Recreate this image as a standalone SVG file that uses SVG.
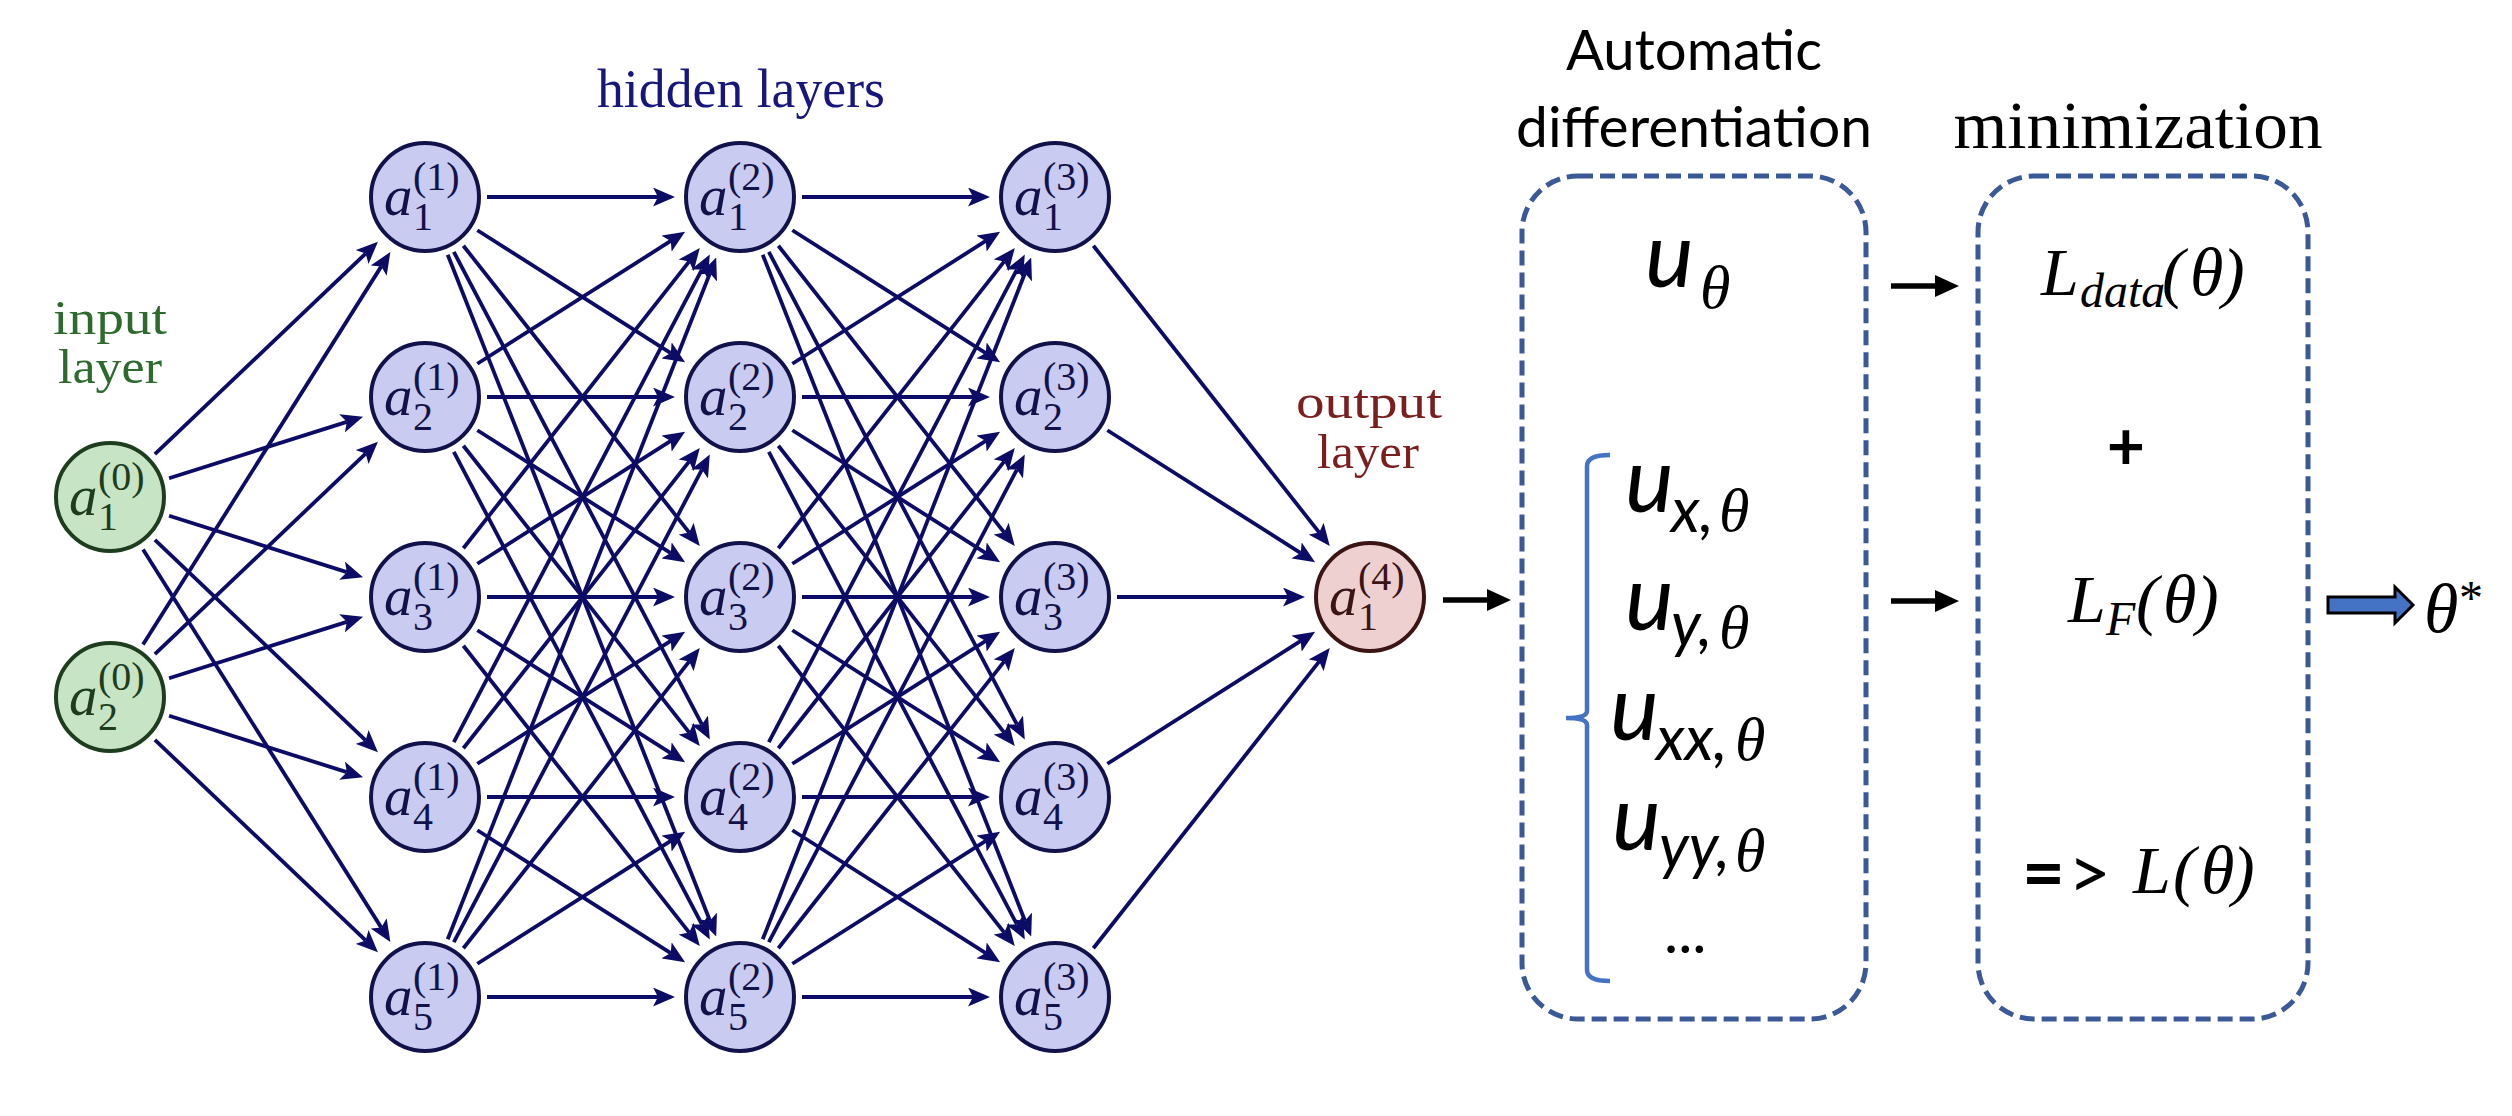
<svg xmlns="http://www.w3.org/2000/svg" width="2512" height="1116" viewBox="0 0 2512 1116">
<style>
.e{stroke:#0c0c66;stroke-width:3.8;fill:none;marker-end:url(#ah)}
.k{stroke:#000;stroke-width:5.5;fill:none;marker-end:url(#ak)}
.nin{fill:#c7e5c5;stroke:#1e3d1e;stroke-width:4}
.nh{fill:#c9cbf1;stroke:#12124a;stroke-width:4}
.nout{fill:#efd0d0;stroke:#3b1414;stroke-width:4}
.lb{font-family:"Liberation Serif",serif}
.tin{fill:#1e3d1e}.th{fill:#12124a}.tout{fill:#3b1414}
.a{font-style:italic;font-size:57px}
.s{font-size:40px}
.cap{font-family:"Liberation Serif",serif;font-size:54px;text-anchor:middle}
.cap2{font-family:"Liberation Serif",serif;font-size:48px;text-anchor:middle}
.sans{font-family:Lato,"Liberation Sans",sans-serif;fill:#000}
.u{font-style:italic;font-size:92px}
.sub{font-style:italic;font-size:62px}
.th8{font-family:"Liberation Serif",serif;font-style:italic;font-size:62px}
.tm{font-family:"Liberation Serif",serif;font-style:italic;fill:#000}
.up{font-family:"Liberation Serif",serif;font-style:normal;fill:#000}
.box{fill:none;stroke:#3b5997;stroke-width:5;stroke-dasharray:15 7}
</style>
<defs>
<marker id="ah" markerUnits="userSpaceOnUse" markerWidth="22" markerHeight="19" viewBox="0 0 22 19" refX="5" refY="9.5" orient="auto"><path d="M0,0 L22,9.5 L0,19 L5,9.5 z" fill="#0c0c66"/></marker>
<marker id="ak" markerUnits="userSpaceOnUse" markerWidth="24" markerHeight="22" viewBox="0 0 24 22" refX="1" refY="11" orient="auto"><path d="M0,0 L24,11 L0,22 z" fill="#000"/></marker>
</defs>
<rect width="2512" height="1116" fill="#fff"/>

<g id="connectors">
<line class="e" x1="154.89" y1="454.24" x2="365.62" y2="253.56"/>
<line class="e" x1="169.09" y1="478.24" x2="346.84" y2="421.82"/>
<line class="e" x1="169.09" y1="515.76" x2="346.84" y2="572.18"/>
<line class="e" x1="154.89" y1="539.76" x2="365.62" y2="740.44"/>
<line class="e" x1="143.05" y1="549.46" x2="381.3" y2="927.62"/>
<line class="e" x1="143.05" y1="644.54" x2="381.3" y2="266.38"/>
<line class="e" x1="154.89" y1="654.24" x2="365.62" y2="453.56"/>
<line class="e" x1="169.09" y1="678.24" x2="346.84" y2="621.82"/>
<line class="e" x1="169.09" y1="715.76" x2="346.84" y2="772.18"/>
<line class="e" x1="154.89" y1="739.76" x2="365.62" y2="940.44"/>

<line class="e" x1="487" y1="197" x2="658" y2="197"/>
<line class="e" x1="477.34" y1="230.23" x2="670.77" y2="353.05"/>
<line class="e" x1="463.36" y1="245.71" x2="689.26" y2="532.58"/>
<line class="e" x1="453.82" y1="251.89" x2="701.89" y2="724.4"/>
<line class="e" x1="447.72" y1="254.69" x2="709.96" y2="920.7"/>
<line class="e" x1="477.34" y1="363.77" x2="670.77" y2="240.95"/>
<line class="e" x1="487" y1="397" x2="658" y2="397"/>
<line class="e" x1="477.34" y1="430.23" x2="670.77" y2="553.05"/>
<line class="e" x1="463.36" y1="445.71" x2="689.26" y2="732.58"/>
<line class="e" x1="453.82" y1="451.89" x2="701.89" y2="924.4"/>
<line class="e" x1="463.36" y1="548.29" x2="689.26" y2="261.42"/>
<line class="e" x1="477.34" y1="563.77" x2="670.77" y2="440.95"/>
<line class="e" x1="487" y1="597" x2="658" y2="597"/>
<line class="e" x1="477.34" y1="630.23" x2="670.77" y2="753.05"/>
<line class="e" x1="463.36" y1="645.71" x2="689.26" y2="932.58"/>
<line class="e" x1="453.82" y1="742.11" x2="701.89" y2="269.6"/>
<line class="e" x1="463.36" y1="748.29" x2="689.26" y2="461.42"/>
<line class="e" x1="477.34" y1="763.77" x2="670.77" y2="640.95"/>
<line class="e" x1="487" y1="797" x2="658" y2="797"/>
<line class="e" x1="477.34" y1="830.23" x2="670.77" y2="953.05"/>
<line class="e" x1="447.72" y1="939.31" x2="709.96" y2="273.3"/>
<line class="e" x1="453.82" y1="942.11" x2="701.89" y2="469.6"/>
<line class="e" x1="463.36" y1="948.29" x2="689.26" y2="661.42"/>
<line class="e" x1="477.34" y1="963.77" x2="670.77" y2="840.95"/>
<line class="e" x1="487" y1="997" x2="658" y2="997"/>

<line class="e" x1="802" y1="197" x2="973" y2="197"/>
<line class="e" x1="792.34" y1="230.23" x2="985.77" y2="353.05"/>
<line class="e" x1="778.36" y1="245.71" x2="1004.26" y2="532.58"/>
<line class="e" x1="768.82" y1="251.89" x2="1016.89" y2="724.4"/>
<line class="e" x1="762.72" y1="254.69" x2="1024.96" y2="920.7"/>
<line class="e" x1="792.34" y1="363.77" x2="985.77" y2="240.95"/>
<line class="e" x1="802" y1="397" x2="973" y2="397"/>
<line class="e" x1="792.34" y1="430.23" x2="985.77" y2="553.05"/>
<line class="e" x1="778.36" y1="445.71" x2="1004.26" y2="732.58"/>
<line class="e" x1="768.82" y1="451.89" x2="1016.89" y2="924.4"/>
<line class="e" x1="778.36" y1="548.29" x2="1004.26" y2="261.42"/>
<line class="e" x1="792.34" y1="563.77" x2="985.77" y2="440.95"/>
<line class="e" x1="802" y1="597" x2="973" y2="597"/>
<line class="e" x1="792.34" y1="630.23" x2="985.77" y2="753.05"/>
<line class="e" x1="778.36" y1="645.71" x2="1004.26" y2="932.58"/>
<line class="e" x1="768.82" y1="742.11" x2="1016.89" y2="269.6"/>
<line class="e" x1="778.36" y1="748.29" x2="1004.26" y2="461.42"/>
<line class="e" x1="792.34" y1="763.77" x2="985.77" y2="640.95"/>
<line class="e" x1="802" y1="797" x2="973" y2="797"/>
<line class="e" x1="792.34" y1="830.23" x2="985.77" y2="953.05"/>
<line class="e" x1="762.72" y1="939.31" x2="1024.96" y2="273.3"/>
<line class="e" x1="768.82" y1="942.11" x2="1016.89" y2="469.6"/>
<line class="e" x1="778.36" y1="948.29" x2="1004.26" y2="661.42"/>
<line class="e" x1="792.34" y1="963.77" x2="985.77" y2="840.95"/>
<line class="e" x1="802" y1="997" x2="973" y2="997"/>

<line class="e" x1="1093.36" y1="245.71" x2="1319.26" y2="532.58"/>
<line class="e" x1="1107.34" y1="430.23" x2="1300.77" y2="553.05"/>
<line class="e" x1="1117" y1="597" x2="1288" y2="597"/>
<line class="e" x1="1107.34" y1="763.77" x2="1300.77" y2="640.95"/>
<line class="e" x1="1093.36" y1="948.29" x2="1319.26" y2="661.42"/>

<line class="k" x1="1443" y1="600" x2="1488" y2="600"/>
<line class="k" x1="1891" y1="286" x2="1936" y2="286"/>
<line class="k" x1="1891" y1="601" x2="1936" y2="601"/>
<polygon points="2328,597 2395,597 2395,587 2413,605 2395,623 2395,613 2328,613" fill="#4472c4" stroke="#000" stroke-width="3"/>
</g>

<g id="n_a1_0"><circle class="nin" cx="110" cy="497" r="54"/><text class="lb tin"><tspan class="a" x="69" y="515">a</tspan><tspan class="s" x="98" y="530">1</tspan><tspan class="s" x="98" y="490">(0)</tspan></text></g>
<g id="n_a2_0"><circle class="nin" cx="110" cy="697" r="54"/><text class="lb tin"><tspan class="a" x="69" y="715">a</tspan><tspan class="s" x="98" y="730">2</tspan><tspan class="s" x="98" y="690">(0)</tspan></text></g>

<g id="n_a1_1"><circle class="nh" cx="425" cy="197" r="54"/><text class="lb th"><tspan class="a" x="384" y="215">a</tspan><tspan class="s" x="413" y="230">1</tspan><tspan class="s" x="413" y="190">(1)</tspan></text></g>
<g id="n_a2_1"><circle class="nh" cx="425" cy="397" r="54"/><text class="lb th"><tspan class="a" x="384" y="415">a</tspan><tspan class="s" x="413" y="430">2</tspan><tspan class="s" x="413" y="390">(1)</tspan></text></g>
<g id="n_a3_1"><circle class="nh" cx="425" cy="597" r="54"/><text class="lb th"><tspan class="a" x="384" y="615">a</tspan><tspan class="s" x="413" y="630">3</tspan><tspan class="s" x="413" y="590">(1)</tspan></text></g>
<g id="n_a4_1"><circle class="nh" cx="425" cy="797" r="54"/><text class="lb th"><tspan class="a" x="384" y="815">a</tspan><tspan class="s" x="413" y="830">4</tspan><tspan class="s" x="413" y="790">(1)</tspan></text></g>
<g id="n_a5_1"><circle class="nh" cx="425" cy="997" r="54"/><text class="lb th"><tspan class="a" x="384" y="1015">a</tspan><tspan class="s" x="413" y="1030">5</tspan><tspan class="s" x="413" y="990">(1)</tspan></text></g>

<g id="n_a1_2"><circle class="nh" cx="740" cy="197" r="54"/><text class="lb th"><tspan class="a" x="699" y="215">a</tspan><tspan class="s" x="728" y="230">1</tspan><tspan class="s" x="728" y="190">(2)</tspan></text></g>
<g id="n_a2_2"><circle class="nh" cx="740" cy="397" r="54"/><text class="lb th"><tspan class="a" x="699" y="415">a</tspan><tspan class="s" x="728" y="430">2</tspan><tspan class="s" x="728" y="390">(2)</tspan></text></g>
<g id="n_a3_2"><circle class="nh" cx="740" cy="597" r="54"/><text class="lb th"><tspan class="a" x="699" y="615">a</tspan><tspan class="s" x="728" y="630">3</tspan><tspan class="s" x="728" y="590">(2)</tspan></text></g>
<g id="n_a4_2"><circle class="nh" cx="740" cy="797" r="54"/><text class="lb th"><tspan class="a" x="699" y="815">a</tspan><tspan class="s" x="728" y="830">4</tspan><tspan class="s" x="728" y="790">(2)</tspan></text></g>
<g id="n_a5_2"><circle class="nh" cx="740" cy="997" r="54"/><text class="lb th"><tspan class="a" x="699" y="1015">a</tspan><tspan class="s" x="728" y="1030">5</tspan><tspan class="s" x="728" y="990">(2)</tspan></text></g>

<g id="n_a1_3"><circle class="nh" cx="1055" cy="197" r="54"/><text class="lb th"><tspan class="a" x="1014" y="215">a</tspan><tspan class="s" x="1043" y="230">1</tspan><tspan class="s" x="1043" y="190">(3)</tspan></text></g>
<g id="n_a2_3"><circle class="nh" cx="1055" cy="397" r="54"/><text class="lb th"><tspan class="a" x="1014" y="415">a</tspan><tspan class="s" x="1043" y="430">2</tspan><tspan class="s" x="1043" y="390">(3)</tspan></text></g>
<g id="n_a3_3"><circle class="nh" cx="1055" cy="597" r="54"/><text class="lb th"><tspan class="a" x="1014" y="615">a</tspan><tspan class="s" x="1043" y="630">3</tspan><tspan class="s" x="1043" y="590">(3)</tspan></text></g>
<g id="n_a4_3"><circle class="nh" cx="1055" cy="797" r="54"/><text class="lb th"><tspan class="a" x="1014" y="815">a</tspan><tspan class="s" x="1043" y="830">4</tspan><tspan class="s" x="1043" y="790">(3)</tspan></text></g>
<g id="n_a5_3"><circle class="nh" cx="1055" cy="997" r="54"/><text class="lb th"><tspan class="a" x="1014" y="1015">a</tspan><tspan class="s" x="1043" y="1030">5</tspan><tspan class="s" x="1043" y="990">(3)</tspan></text></g>

<g id="n_a1_4"><circle class="nout" cx="1370" cy="597" r="54"/><text class="lb tout"><tspan class="a" x="1329" y="615">a</tspan><tspan class="s" x="1358" y="630">1</tspan><tspan class="s" x="1358" y="590">(4)</tspan></text></g>

<g id="labels">
<text class="cap2" fill="#2d6a2d" x="110" y="334" textLength="114" lengthAdjust="spacingAndGlyphs">input</text>
<text class="cap2" fill="#2d6a2d" x="110" y="383" textLength="104" lengthAdjust="spacingAndGlyphs">layer</text>
<text class="cap" fill="#16167c" x="741" y="107" textLength="288" lengthAdjust="spacingAndGlyphs">hidden layers</text>
<text class="cap2" fill="#7a1e1e" x="1369" y="418" textLength="146" lengthAdjust="spacingAndGlyphs">output</text>
<text class="cap2" fill="#7a1e1e" x="1368" y="468" textLength="102" lengthAdjust="spacingAndGlyphs">layer</text>
</g>

<g id="autodiff">
<text class="sans" x="1694" y="70" font-size="56" text-anchor="middle" textLength="256" lengthAdjust="spacingAndGlyphs">Automatic</text>
<text class="sans" x="1694" y="147" font-size="56" text-anchor="middle" textLength="356" lengthAdjust="spacingAndGlyphs">differentiation</text>
<rect class="box" x="1522" y="176" width="344" height="843" rx="56" ry="56"/>
<text class="sans"><tspan class="u" x="1645" y="287">u</tspan></text>
<text class="th8" x="1700" y="308">θ</text>
<text class="sans"><tspan class="u" x="1625" y="512">u</tspan><tspan class="sub" x="1671" y="532">x,</tspan></text>
<text class="th8" x="1719" y="531">θ</text>
<text class="sans"><tspan class="u" x="1625" y="630">u</tspan><tspan class="sub" x="1671" y="646">y,</tspan></text>
<text class="th8" x="1719" y="648">θ</text>
<text class="sans"><tspan class="u" x="1610" y="740">u</tspan><tspan class="sub" x="1656" y="760">xx,</tspan></text>
<text class="th8" x="1735" y="760">θ</text>
<text class="sans"><tspan class="u" x="1612" y="850">u</tspan><tspan class="sub" x="1659" y="868">yy,</tspan></text>
<text class="th8" x="1735" y="871">θ</text>
<text class="sans" x="1664" y="953" font-size="60">...</text>
<path d="M1610,455 Q1587,455 1587,466 L1587,711 Q1587,718 1566,718 Q1587,718 1587,725 L1587,970 Q1587,981 1610,981" fill="none" stroke="#4472c4" stroke-width="4.5"/>
</g>

<g id="minimization">
<text class="up" x="2138" y="148" font-size="68" text-anchor="middle" textLength="369" lengthAdjust="spacingAndGlyphs">minimization</text>
<rect class="box" x="1978" y="176" width="330" height="843" rx="56" ry="56"/>
<text class="tm"><tspan x="2041" y="295" font-size="68">L</tspan><tspan x="2080" y="307" font-size="48">data</tspan><tspan x="2162" y="295" font-size="68">(</tspan><tspan x="2190" y="295" font-size="68">θ</tspan><tspan x="2222" y="295" font-size="68">)</tspan></text>
<text class="sans" x="2126" y="470" font-size="66" font-weight="bold" text-anchor="middle">+</text>
<text class="tm"><tspan x="2068" y="622" font-size="68">L</tspan><tspan x="2106" y="635" font-size="48">F</tspan><tspan x="2136" y="622" font-size="68">(</tspan><tspan x="2163" y="622" font-size="68">θ</tspan><tspan x="2196" y="622" font-size="68">)</tspan></text>
<text class="sans" font-size="74"><tspan x="2022" y="899" font-weight="bold">=</tspan><tspan x="2068" y="899">&gt;</tspan></text>
<text class="tm"><tspan x="2133" y="893" font-size="68">L</tspan><tspan x="2173" y="893" font-size="68">(</tspan><tspan x="2201" y="893" font-size="68">θ</tspan><tspan x="2232" y="893" font-size="68">)</tspan></text>
</g>

<g id="result">
<text class="tm" x="2424" y="632" font-size="70">θ</text>
<text class="up" x="2459" y="614" font-size="48">*</text>
</g>
</svg>
